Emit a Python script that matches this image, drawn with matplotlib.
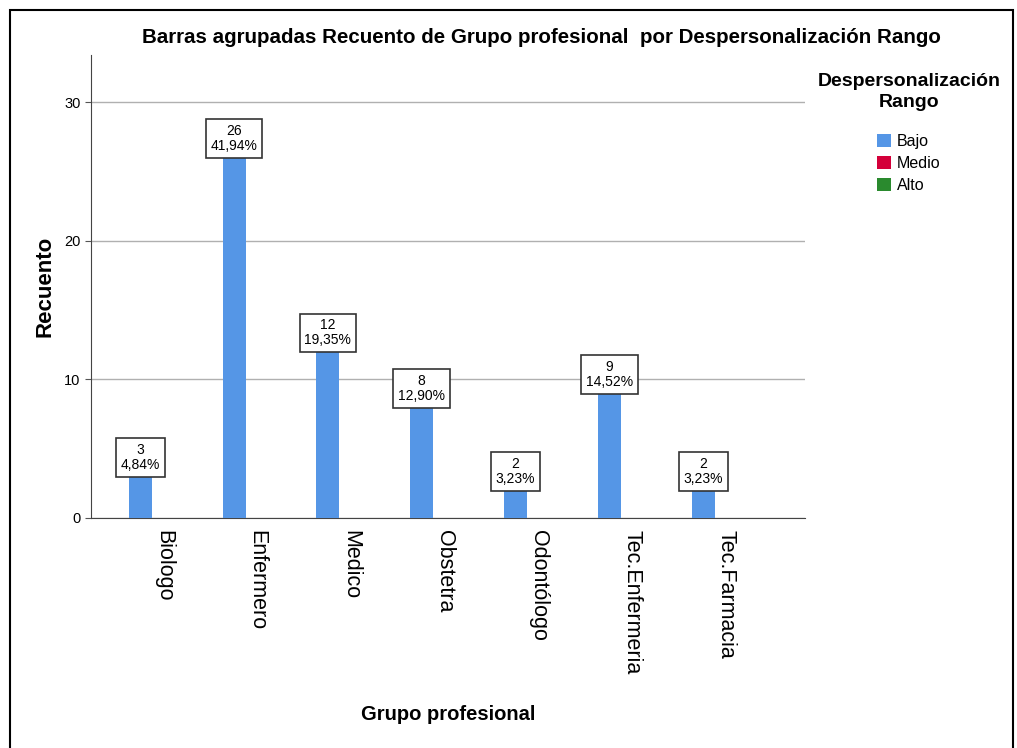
import matplotlib
matplotlib.use('Agg')
import matplotlib.pyplot as plt
import numpy as np
from matplotlib.patches import Rectangle, Patch

plt.rcParams['font.family'] = ['Liberation Sans', 'DejaVu Sans']

grupos = ['Biologo', 'Enfermero', 'Medico', 'Obstetra', 'Odontólogo',
          'Tec.Enfermeria', 'Tec.Farmacia']
rangos = ['Bajo', 'Medio', 'Alto']
bajo = [3, 26, 12, 8, 2, 9, 2]
medio = [0, 0, 0, 0, 0, 0, 0]
alto = [0, 0, 0, 0, 0, 0, 0]
porcentajes = ['4,84%', '41,94%', '19,35%', '12,90%', '3,23%', '14,52%', '3,23%']
colores = ['#5596e6', '#d4003a', '#2a8a2e']

fig = plt.figure(figsize=(10.17, 7.48), dpi=100)
ax = fig.add_axes([0.0895, 0.3075, 0.702, 0.619])

x = np.arange(len(grupos))
w = 0.245
for i, (serie, col) in enumerate(zip([bajo, medio, alto], colores)):
    ax.bar(x + (i - 1) * w, serie, width=w, color=col, zorder=3)

# etiquetas sobre las barras de Bajo
for xi, v, p in zip(x, bajo, porcentajes):
    ax.annotate(f'{v}\n{p}', (xi - w, v), xytext=(0, 3), textcoords='offset points',
                ha='center', va='bottom', fontsize=10, linespacing=1.1,
                bbox=dict(boxstyle='square,pad=0.35', fc='white', ec='#333333', lw=1.2),
                zorder=5)

ax.set_xlim(-0.77, 6.84)
ax.set_ylim(0, 33.4)
ax.set_yticks([0, 10, 20, 30])
ax.yaxis.grid(True, color='#b0b0b0', lw=1, zorder=0)
ax.set_xticks(x)
ax.set_xticklabels(grupos, rotation=270, fontsize=15.5)
ax.tick_params(axis='x', length=0, pad=9)
ax.tick_params(axis='y', labelsize=10.5, length=4, color='#555555')
for s in ['top', 'right']:
    ax.spines[s].set_visible(False)
for s in ['left', 'bottom']:
    ax.spines[s].set_color('#444444')

ax.set_ylabel('Recuento', fontsize=16, fontweight='bold', labelpad=6)
ax.set_xlabel('Grupo profesional', fontsize=14.5, fontweight='bold', labelpad=22)
fig.suptitle('Barras agrupadas Recuento de Grupo profesional  por Despersonalización Rango',
             x=0.532, y=0.963, fontsize=14.8, fontweight='bold')

fig.text(0.894, 0.877, 'Despersonalización\nRango', ha='center', va='center',
         fontsize=14, fontweight='bold', linespacing=1.3)
handles = [Patch(facecolor=c, edgecolor='none') for c in colores]
leg = fig.legend(handles, rangos, loc='upper left', bbox_to_anchor=(0.856, 0.83),
                 frameon=False, fontsize=11.5, borderaxespad=0,
                 handlelength=0.9, handleheight=0.9, handletextpad=0.35,
                 labelspacing=0.45)

fig.patches.append(Rectangle((0.0098, -0.01), 0.986, 0.9967, transform=fig.transFigure,
                             fill=False, ec='black', lw=1.5))

fig.savefig('out.png', dpi=100)
